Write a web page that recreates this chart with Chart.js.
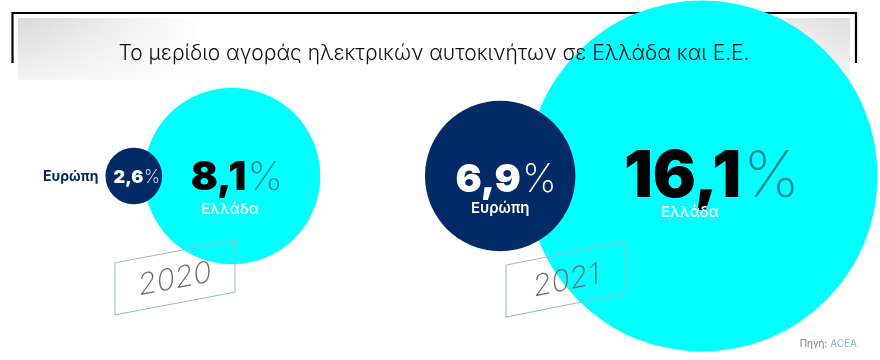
<!DOCTYPE html>
<html><head><meta charset="utf-8">
<script src="https://cdn.jsdelivr.net/npm/chart.js@4/dist/chart.umd.min.js"></script>
<style>html,body{margin:0;padding:0;background:#fff;overflow:hidden}#wrap{width:880px;height:360px;position:relative}</style>
</head><body><div id="wrap"><canvas id="c" width="880" height="360"></canvas></div>
<script>
// ---- data ----
const chartTitle = 'Το μερίδιο αγοράς ηλεκτρικών αυτοκινήτων σε Ελλάδα και Ε.Ε.';
const years = ['2020', '2021'];
const europeShare = [2.6, 6.9];
const greeceShare = [8.1, 16.1];
const europeName = 'Ευρώπη';
const greeceName = 'Ελλάδα';
const sourceLabel = 'Πηγή:';
const sourceName = 'ACEA';

// ---- layout / style ----
const W = 880, H = 360;
const PX_PER_PCT = 10.9;          // bubble radius in px per percentage point
const FIRST_YEAR_PX = 232;        // pixel x of the first year's Greece bubble
const YEAR_SPACING_PX = 470;      // px between years
const OVERLAP = 0.35;             // Europe bubble centre sits this fraction of its radius left of Greece's edge
const CYAN = '#00ffff', NAVY = '#022a66', PCT_TEAL = '#1f8a90';
const FONT = 'Inter, "Noto Sans", "DejaVu Sans", sans-serif';

const xMin = Number(years[0]) - FIRST_YEAR_PX / YEAR_SPACING_PX;
const xMax = xMin + W / YEAR_SPACING_PX;

const greeceData = years.map((y, i) => ({x: Number(y), y: 0, r: greeceShare[i] * PX_PER_PCT, v: greeceShare[i]}));
const europeData = years.map((y, i) => {
  const rg = greeceShare[i] * PX_PER_PCT, re = europeShare[i] * PX_PER_PCT;
  return {x: Number(y) - (rg + OVERLAP * re) / YEAR_SPACING_PX, y: 0, r: re, v: europeShare[i]};
});

// label styling per point (size of value text, offsets relative to bubble centre)
const europeLabelStyle = [
  {size: 18, dx: 3, dy: 7, nameOutside: true, nameDy: 5},
  {size: 39, dx: 6, dy: 16, nameOutside: false, nameDx: 0, nameDy: 37}
];
const greeceLabelStyle = [
  {size: 40, dx: 5, dy: 14, nameDx: -2, nameDy: 38},
  {size: 64, dx: 10, dy: 21, nameDx: -12, nameDy: 41}
];
const yearBoxes = [
  {cx: 175, cy: 277.5, w: 120, h: 52, skew: -0.19},
  {cx: 566.5, cy: 279, w: 121, h: 52, skew: -0.2}
];

const fmt = v => v.toFixed(1).replace('.', ',');

function drawValue(ctx, cx, baseline, v, size, numColor, pctColor) {
  const num = fmt(v);
  ctx.font = `900 ${size}px ${FONT}`;
  const wn = ctx.measureText(num).width;
  ctx.font = `200 ${size}px ${FONT}`;
  const wp = ctx.measureText('%').width;
  const gap = size * 0.03;
  let x = cx - (wn + gap + wp) / 2;
  ctx.textAlign = 'left'; ctx.textBaseline = 'alphabetic';
  ctx.font = `900 ${size}px ${FONT}`;
  ctx.fillStyle = numColor; ctx.fillText(num, x, baseline);
  ctx.font = `200 ${size}px ${FONT}`;
  ctx.fillStyle = pctColor; ctx.fillText('%', x + wn + gap, baseline);
}

const backdrop = {
  id: 'backdrop',
  beforeDatasetsDraw(chart) {
    const ctx = chart.ctx;
    ctx.save();
    const g = ctx.createLinearGradient(18, 0, 850, 0);
    g.addColorStop(0, '#d9d9d9'); g.addColorStop(0.22, '#ffffff');
    g.addColorStop(0.8, '#ffffff'); g.addColorStop(1, '#dedede');
    ctx.fillStyle = g; ctx.fillRect(18, 18, 832, 62);
    const g2 = ctx.createLinearGradient(0, 18, 0, 80);
    g2.addColorStop(0, 'rgba(255,255,255,0)'); g2.addColorStop(1, 'rgba(255,255,255,0.7)');
    ctx.fillStyle = g2; ctx.fillRect(18, 18, 832, 62);
    ctx.strokeStyle = '#000'; ctx.lineWidth = 2.2;
    ctx.beginPath();
    ctx.moveTo(12.5, 63); ctx.lineTo(12.5, 13); ctx.lineTo(856, 13); ctx.lineTo(856, 63);
    ctx.stroke();
    ctx.restore();
  }
};

const labels = {
  id: 'labels',
  afterDatasetsDraw(chart) {
    const ctx = chart.ctx;
    ctx.save();
    ctx.font = `300 21px ${FONT}`;
    ctx.fillStyle = '#111'; ctx.textAlign = 'center'; ctx.textBaseline = 'alphabetic';
    ctx.fillText(chartTitle, 434, 60);

    const eu = chart.getDatasetMeta(0).data, gr = chart.getDatasetMeta(1).data;
    eu.forEach((el, i) => {
      const s = europeLabelStyle[i], r = el.options.radius;
      drawValue(ctx, el.x + s.dx, el.y + s.dy, europeShare[i], s.size, '#fff', '#fff');
      if (s.nameOutside) {
        ctx.font = `700 14px ${FONT}`; ctx.fillStyle = NAVY; ctx.textAlign = 'right';
        ctx.fillText(europeName, el.x - r - 7, el.y + s.nameDy);
      } else {
        ctx.font = `600 15px ${FONT}`; ctx.fillStyle = '#fff'; ctx.textAlign = 'center';
        ctx.fillText(europeName, el.x + s.nameDx, el.y + s.nameDy);
      }
    });
    gr.forEach((el, i) => {
      const s = greeceLabelStyle[i];
      drawValue(ctx, el.x + s.dx, el.y + s.dy, greeceShare[i], s.size, '#000', PCT_TEAL);
      ctx.font = `500 15px ${FONT}`; ctx.fillStyle = '#fff'; ctx.textAlign = 'center';
      ctx.fillText(greeceName, el.x + s.nameDx, el.y + s.nameDy);
    });

    years.forEach((yr, i) => {
      const b = yearBoxes[i];
      ctx.save();
      ctx.setTransform(1, b.skew, 0, 1, b.cx, b.cy);
      ctx.strokeStyle = '#9db8ba'; ctx.lineWidth = 1;
      ctx.strokeRect(-b.w / 2, -b.h / 2, b.w, b.h);
      ctx.font = `200 30px ${FONT}`; ctx.fillStyle = '#6a6a6a'; ctx.textAlign = 'center';
      ctx.textBaseline = 'alphabetic';
      ctx.fillText(yr, 0, 11);
      ctx.restore();
    });

    ctx.font = `400 10px ${FONT}`; ctx.textAlign = 'right';
    ctx.fillStyle = '#8fb3ba';
    ctx.fillText(sourceName, 857, 347);
    const wa = ctx.measureText(sourceName).width;
    ctx.fillStyle = '#808080';
    ctx.fillText(sourceLabel + ' ', 857 - wa, 347);
    ctx.restore();
  }
};

new Chart(document.getElementById('c'), {
  type: 'bubble',
  data: {
    datasets: [
      {label: europeName, data: europeData, backgroundColor: NAVY, borderWidth: 0, clip: false},
      {label: greeceName, data: greeceData, backgroundColor: CYAN, borderWidth: 0, clip: false}
    ]
  },
  options: {
    responsive: false, animation: false, devicePixelRatio: 1, events: [],
    layout: {autoPadding: false, padding: {left: 0, right: 0, top: 0, bottom: 8}},
    plugins: {legend: {display: false}, tooltip: {enabled: false}, title: {display: false}},
    scales: {
      x: {type: 'linear', min: xMin, max: xMax, display: false},
      y: {type: 'linear', min: -1, max: 1, display: false}
    }
  },
  plugins: [backdrop, labels]
});
</script></body></html>
